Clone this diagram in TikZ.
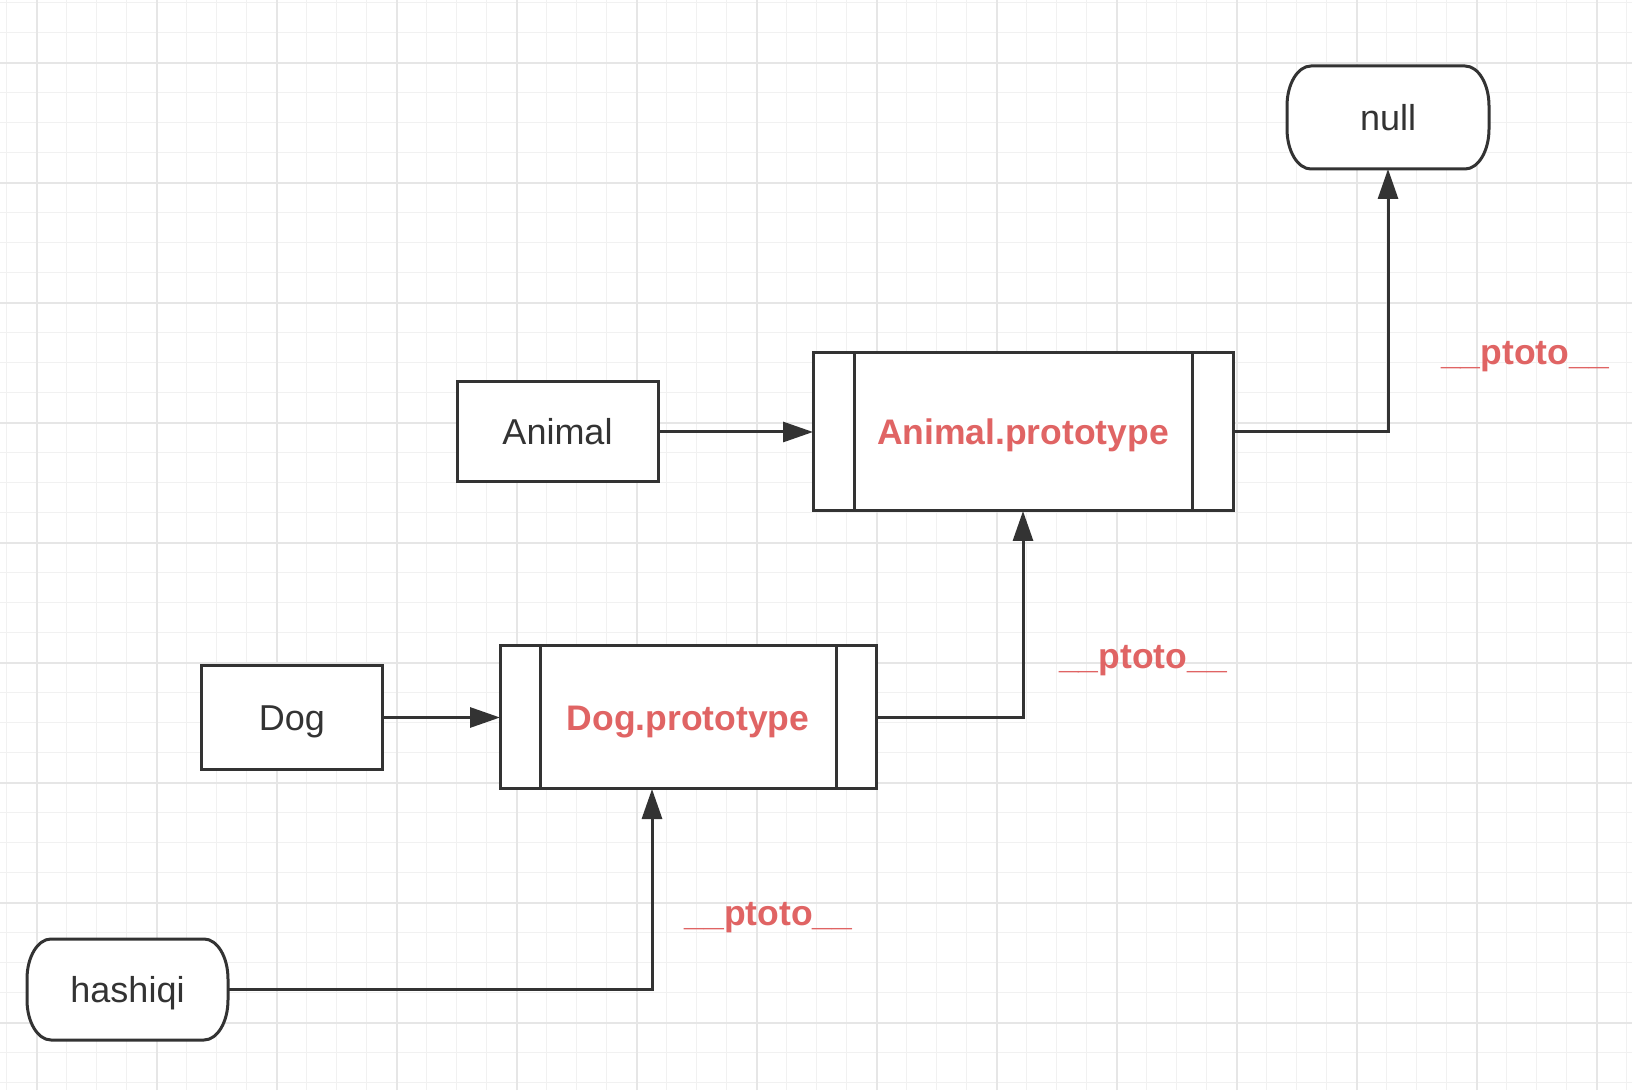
\documentclass[tikz,border=0pt]{standalone}
\usepackage{fontspec}
\setmainfont{Liberation Sans}
\usetikzlibrary{arrows.meta}
\definecolor{ink}{HTML}{333333}
\definecolor{redtxt}{HTML}{E06464}
\definecolor{gridminor}{HTML}{F1F1F1}
\definecolor{gridmajor}{HTML}{E6E6E6}
\pgfdeclarelayer{bg}
\pgfsetlayers{bg,main}
\begin{document}
\begin{tikzpicture}[x=1pt,y=1pt,
  bord/.style={draw=ink,line width=3pt},
  plain/.style={font=\fontsize{36}{40}\selectfont, text=ink, text height=26pt, text depth=0pt, inner sep=0pt, outer sep=0pt},
  procbox/.style={plain, bord, fill=white},
  term/.style={plain},
  protobox/.style={bord, fill=white, inner sep=0pt, outer sep=0pt, font=\fontsize{35.5}{40}\selectfont\bfseries, text=redtxt, text height=25.5pt, text depth=0pt},
  lbl/.style={font=\fontsize{35.5}{40}\selectfont\bfseries, text=redtxt, inner sep=0pt, anchor=base},
  arr/.style={draw=ink, line width=3pt, -{Triangle[length=30pt,width=20pt]}},
  gminor/.style={draw=gridminor, line width=1.5pt},
  gmajor/.style={draw=gridmajor, line width=2pt},
]
\useasboundingbox (0,0) rectangle (1632,1090);
\begin{pgfonlayer}{bg}
\fill[white] (0,0) rectangle (1632,1090);
\foreach \k in {0,...,54} {\draw[gminor] (6.7+30*\k,0) -- (6.7+30*\k,1090);}
\foreach \k in {0,...,36} {\draw[gminor] (0,1087.3-30*\k) -- (1632,1087.3-30*\k);}
\foreach \k in {0,...,13} {\draw[gmajor] (36.7+120*\k,0) -- (36.7+120*\k,1090);}
\foreach \k in {0,...,8} {\draw[gmajor] (0,1027.3-120*\k) -- (1632,1027.3-120*\k);}
\end{pgfonlayer}

% nodes
\node[term, minimum width=202pt, minimum height=103pt] (null) at (1388,972.5) {null};
\node[term, minimum width=201pt, minimum height=101pt] (hashiqi) at (127.5,100.5) {hashiqi};
\node[procbox, minimum width=201pt, minimum height=100pt] (animal) at (557.5,658) {Animal};
\node[procbox, minimum width=181pt, minimum height=104pt] (dog) at (292,372.5) {Dog};
\node[protobox, minimum width=420pt, minimum height=158pt] (animalp) at (1023,658) {Animal.prototype};
\node[protobox, minimum width=376pt, minimum height=143pt] (dogp) at (688,372.5) {Dog.prototype};

% terminator outlines
\begin{pgfonlayer}{bg}
\foreach \n in {null,hashiqi} {
\draw[bord, fill=white] ([xshift=24pt]\n.north west) -- ([xshift=-24pt]\n.north east)
  arc[start angle=90,end angle=0,x radius=24pt,y radius=40pt]
  -- ([yshift=40pt]\n.south east)
  arc[start angle=0,end angle=-90,x radius=24pt,y radius=40pt]
  -- ([xshift=24pt]\n.south west)
  arc[start angle=270,end angle=180,x radius=24pt,y radius=40pt]
  -- ([yshift=-40pt]\n.north west)
  arc[start angle=180,end angle=90,x radius=24pt,y radius=40pt]
  -- cycle;
}
\end{pgfonlayer}

% inner bars of the prototype boxes
\draw[bord] ([xshift=41pt]animalp.north west) -- ([xshift=41pt]animalp.south west);
\draw[bord] ([xshift=-41pt]animalp.north east) -- ([xshift=-41pt]animalp.south east);
\draw[bord] ([xshift=40pt]dogp.north west) -- ([xshift=40pt]dogp.south west);
\draw[bord] ([xshift=-40pt]dogp.north east) -- ([xshift=-40pt]dogp.south east);

% connectors
\draw[arr] (animal.east) -- (animalp.west);
\draw[arr] (dog.east) -- (dogp.west);
\draw[arr] (animalp.east) -| (null.south);
\draw[arr] (dogp.east) -| (animalp.south);
\draw[arr] (hashiqi.east) -| ([xshift=-36pt]dogp.south);

% labels
\node[lbl] (l1) at (1525,725) {\_\_ptoto\_\_};
\node[lbl] (l2) at (1143,421) {\_\_ptoto\_\_};
\node[lbl] (l3) at (768.5,165) {\_\_ptoto\_\_};
\end{tikzpicture}
\end{document}
